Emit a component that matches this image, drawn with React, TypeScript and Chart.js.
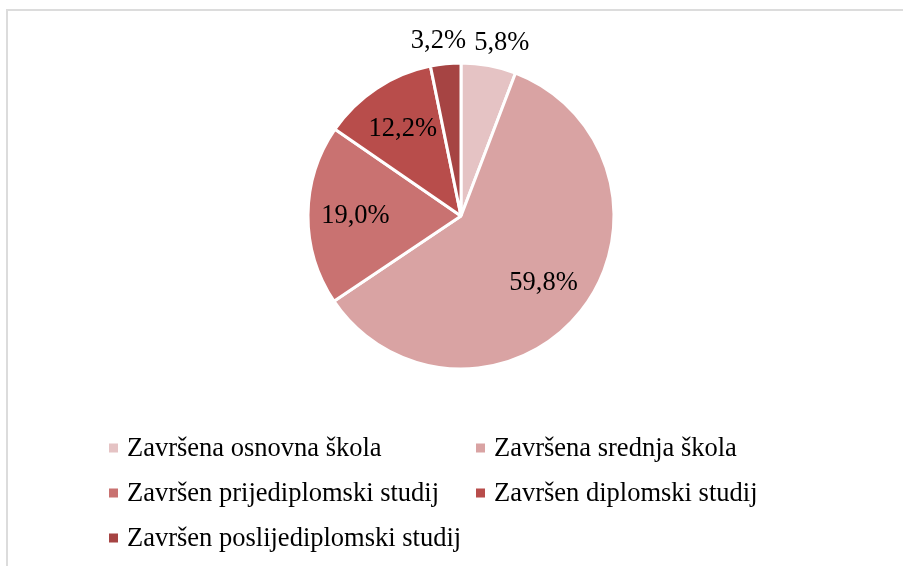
import React, { useEffect, useRef } from "react";
import { Chart, registerables } from "chart.js";

Chart.register(...registerables);

const categories = [
  "Završena osnovna škola",
  "Završena srednja škola",
  "Završen prijediplomski studij",
  "Završen diplomski studij",
  "Završen poslijediplomski studij",
];
const values = [5.8, 59.8, 19.0, 12.2, 3.2];
const valueLabels = ["5,8%", "59,8%", "19,0%", "12,2%", "3,2%"];
const colors = ["#E5C3C4", "#D9A3A3", "#C97271", "#B84D4B", "#A64443"];

const FONT = '"Liberation Serif", "Times New Roman", serif';

const labelPlugin = {
  id: "sliceLabels",
  afterDatasetsDraw(chart: any) {
    const ctx = chart.ctx;
    const meta = chart.getDatasetMeta(0);
    ctx.save();
    ctx.font = `26.5px ${FONT}`;
    ctx.fillStyle = "#000";
    ctx.textAlign = "center";
    ctx.textBaseline = "middle";
    meta.data.forEach((arc: any, i: number) => {
      const p = arc.getProps(["x", "y", "startAngle", "endAngle", "outerRadius"], true);
      const mid = (p.startAngle + p.endAngle) / 2;
      const v = chart.data.datasets[0].data[i];
      const outside = v < 8;
      const d = outside ? p.outerRadius + 24 : p.outerRadius * 0.69;
      const kx = outside ? 1.27 : 1;
      ctx.fillText(valueLabels[i], p.x + Math.cos(mid) * d * kx, p.y + Math.sin(mid) * d + 1);
    });
    ctx.restore();
  },
};

const legendPlugin = {
  id: "gridLegend",
  afterDraw(chart: any) {
    const ctx = chart.ctx;
    const colX = [109, 476];
    const rowY = [448, 493, 538];
    const ds = chart.data.datasets[0];
    ctx.save();
    ctx.font = `26.5px ${FONT}`;
    ctx.textAlign = "left";
    ctx.textBaseline = "middle";
    chart.data.labels.forEach((lab: string, i: number) => {
      const x = colX[i % 2];
      const y = rowY[Math.floor(i / 2)];
      ctx.fillStyle = ds.backgroundColor[i];
      ctx.fillRect(x, y - 4.5, 9, 9);
      ctx.fillStyle = "#000";
      ctx.fillText(lab, x + 18, y + 1);
    });
    ctx.restore();
  },
};

export default function App() {
  const ref = useRef<HTMLCanvasElement>(null);
  useEffect(() => {
    if (!ref.current) return;
    const chart = new Chart(ref.current, {
      type: "pie",
      data: {
        labels: categories,
        datasets: [
          {
            data: values,
            backgroundColor: colors,
            borderColor: "#ffffff",
            borderWidth: 3,
          },
        ],
      },
      options: {
        responsive: false,
        animation: false,
        radius: 153,
        layout: { padding: { left: 19, right: 0, top: 60, bottom: 194 } },
        plugins: {
          legend: { display: false },
          tooltip: { enabled: false },
        },
      } as any,
      plugins: [labelPlugin, legendPlugin],
    });
    return () => chart.destroy();
  }, []);
  return (
    <div
      style={{
        position: "fixed",
        left: 0,
        top: 0,
        width: 903,
        height: 566,
        overflow: "hidden",
        background: "#fff",
      }}
    >
      <canvas ref={ref} width={903} height={566} style={{ position: "absolute", left: 0, top: 0 }} />
      <div
        style={{
          position: "absolute",
          left: 6,
          top: 9,
          width: 1000,
          height: 700,
          borderLeft: "2px solid #dcdcdc",
          borderTop: "2px solid #dcdcdc",
          pointerEvents: "none",
        }}
      />
    </div>
  );
}
